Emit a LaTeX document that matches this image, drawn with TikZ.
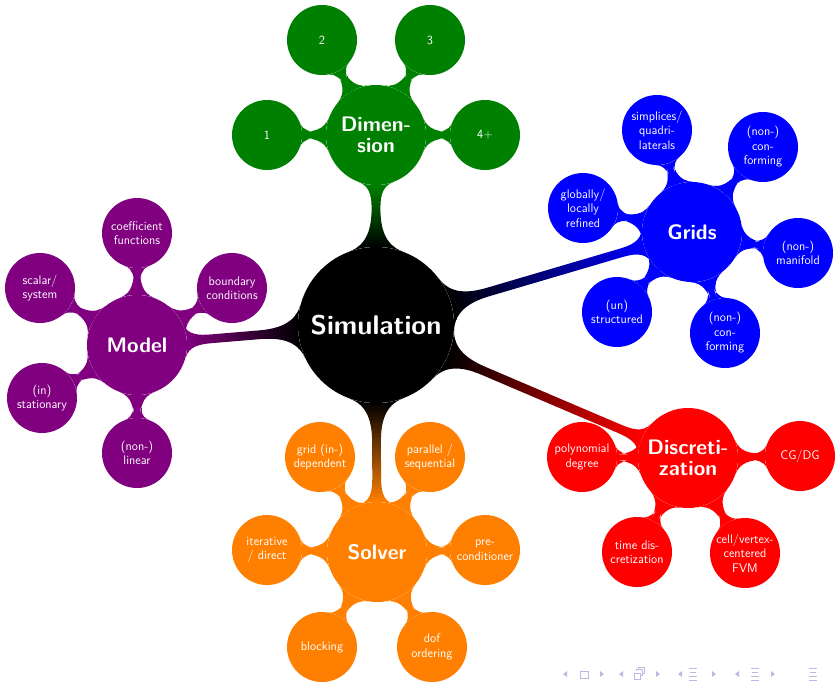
\documentclass[tikz,border=0pt]{standalone}
\usetikzlibrary{mindmap}
\definecolor{cgreen}{RGB}{0,128,0}
\definecolor{cblue}{RGB}{0,0,255}
\definecolor{cred}{RGB}{255,0,0}
\definecolor{corange}{RGB}{255,128,0}
\definecolor{cpurple}{RGB}{128,0,128}
\definecolor{navc}{RGB}{185,185,228}
\begin{document}
\begin{tikzpicture}[x=1pt,y=-1pt,
  conc/.style={circle, inner sep=0pt, align=center, text=white},
  rootc/.style={conc, fill=black, minimum size=156pt, font=\sffamily\bfseries\fontsize{27}{30}\selectfont},
  mainc/.style={conc, minimum size=100pt, font=\sffamily\bfseries\fontsize{21}{21}\selectfont},
  leafc/.style={conc, minimum size=70pt, font=\sffamily\fontsize{12.5}{14.5}\selectfont},
  mainbar/.style={line width=10pt},
  leafbar/.style={line width=7pt},
  navsym/.style={fill=navc, draw=none},
]
\useasboundingbox (0,0) rectangle (837,681);
% root
\node[rootc] (sim) at (376,325) {Simulation};
% Dimension
\node[mainc, fill=cgreen] (dim) at (376,135) {Dimen-\\sion};
\node[leafc, fill=cgreen] (d1) at (267,135) {1};
\node[leafc, fill=cgreen] (d2) at (322,40) {2};
\node[leafc, fill=cgreen] (d3) at (430,40) {3};
\node[leafc, fill=cgreen] (d4) at (485,135) {4+};
% Grids
\node[mainc, fill=cblue] (gri) at (692,232) {Grids};
\node[leafc, fill=cblue] (g1) at (657,130) {simplices/\\quadri-\\laterals};
\node[leafc, fill=cblue] (g2) at (763,147) {(non-)\\con-\\forming};
\node[leafc, fill=cblue] (g3) at (798,253) {(non-)\\manifold};
\node[leafc, fill=cblue] (g4) at (725,333) {(non-)\\con-\\forming};
\node[leafc, fill=cblue] (g5) at (617,312) {(un)\\structured};
\node[leafc, fill=cblue] (g6) at (583,208) {globally/\\locally\\refined};
% Discretization
\node[mainc, fill=cred] (dis) at (688,458) {Discreti-\\zation};
\node[leafc, fill=cred] (s1) at (582,457) {polynomial\\degree};
\node[leafc, fill=cred] (s2) at (800,456) {CG/DG};
\node[leafc, fill=cred] (s3) at (637,552) {time dis-\\cretization};
\node[leafc, fill=cred] (s4) at (745,553) {cell/vertex-\\centered\\FVM};
% Solver
\node[mainc, fill=corange] (sol) at (377,552) {Solver};
\node[leafc, fill=corange] (o1) at (320,457) {grid (in-)\\dependent};
\node[leafc, fill=corange] (o2) at (430,457) {parallel /\\sequential};
\node[leafc, fill=corange] (o3) at (267,550) {iterative\\/ direct};
\node[leafc, fill=corange] (o4) at (485,550) {pre-\\conditioner};
\node[leafc, fill=corange] (o5) at (322,647) {blocking};
\node[leafc, fill=corange] (o6) at (432,647) {dof\\ordering};
% Model
\node[mainc, fill=cpurple] (mod) at (137,345) {Model};
\node[leafc, fill=cpurple] (m1) at (137,233) {coefficient\\functions};
\node[leafc, fill=cpurple] (m2) at (40,288) {scalar/\\system};
\node[leafc, fill=cpurple] (m3) at (232,288) {boundary\\conditions};
\node[leafc, fill=cpurple] (m4) at (42,398) {(in)\\stationary};
\node[leafc, fill=cpurple] (m5) at (137,453) {(non-)\\linear};
% main bars
\path[mainbar] (sim) to[circle connection bar switch color=from (black) to (cgreen)] (dim);
\path[mainbar] (sim) to[circle connection bar switch color=from (black) to (cblue)] (gri);
\path[mainbar] (sim) to[circle connection bar switch color=from (black) to (cred)] (dis);
\path[mainbar] (sim) to[circle connection bar switch color=from (black) to (corange)] (sol);
\path[mainbar] (sim) to[circle connection bar switch color=from (black) to (cpurple)] (mod);
% leaf bars
\foreach \a in {d1,d2,d3,d4}
  \path[leafbar] (dim) to[circle connection bar switch color=from (cgreen) to (cgreen)] (\a);
\foreach \a in {g1,g2,g3,g4,g5,g6}
  \path[leafbar] (gri) to[circle connection bar switch color=from (cblue) to (cblue)] (\a);
\foreach \a in {s1,s2,s3,s4}
  \path[leafbar] (dis) to[circle connection bar switch color=from (cred) to (cred)] (\a);
\foreach \a in {o1,o2,o3,o4,o5,o6}
  \path[leafbar] (sol) to[circle connection bar switch color=from (corange) to (corange)] (\a);
\foreach \a in {m1,m2,m3,m4,m5}
  \path[leafbar] (mod) to[circle connection bar switch color=from (cpurple) to (cpurple)] (\a);
% navigation symbols
\foreach \x in {565,621,680,737}
  \fill[navsym] (\x+2,671) -- (\x-2,674) -- (\x+2,677) -- cycle;
\foreach \x in {602,658,714,773}
  \fill[navsym] (\x-2,671) -- (\x+2,674) -- (\x-2,677) -- cycle;
\draw[navc, line width=0.9pt] (580,671) rectangle (588,678);
\draw[navc, line width=0.9pt] (634,673) rectangle (640,679) (636,671) -- (636,669) -- (642,669) -- (642,675) -- (640,675) (638,669) -- (638,667) -- (644,667) -- (644,673) -- (642,673);
\foreach \x in {693,755,813} {
  \draw[navc, line width=0.9pt] (\x-4,668) -- (\x+4,668) (\x-3,672) -- (\x+3,672) (\x-4,676) -- (\x+4,676) (\x-4,680) -- (\x+4,680);
}
\end{tikzpicture}
\end{document}
